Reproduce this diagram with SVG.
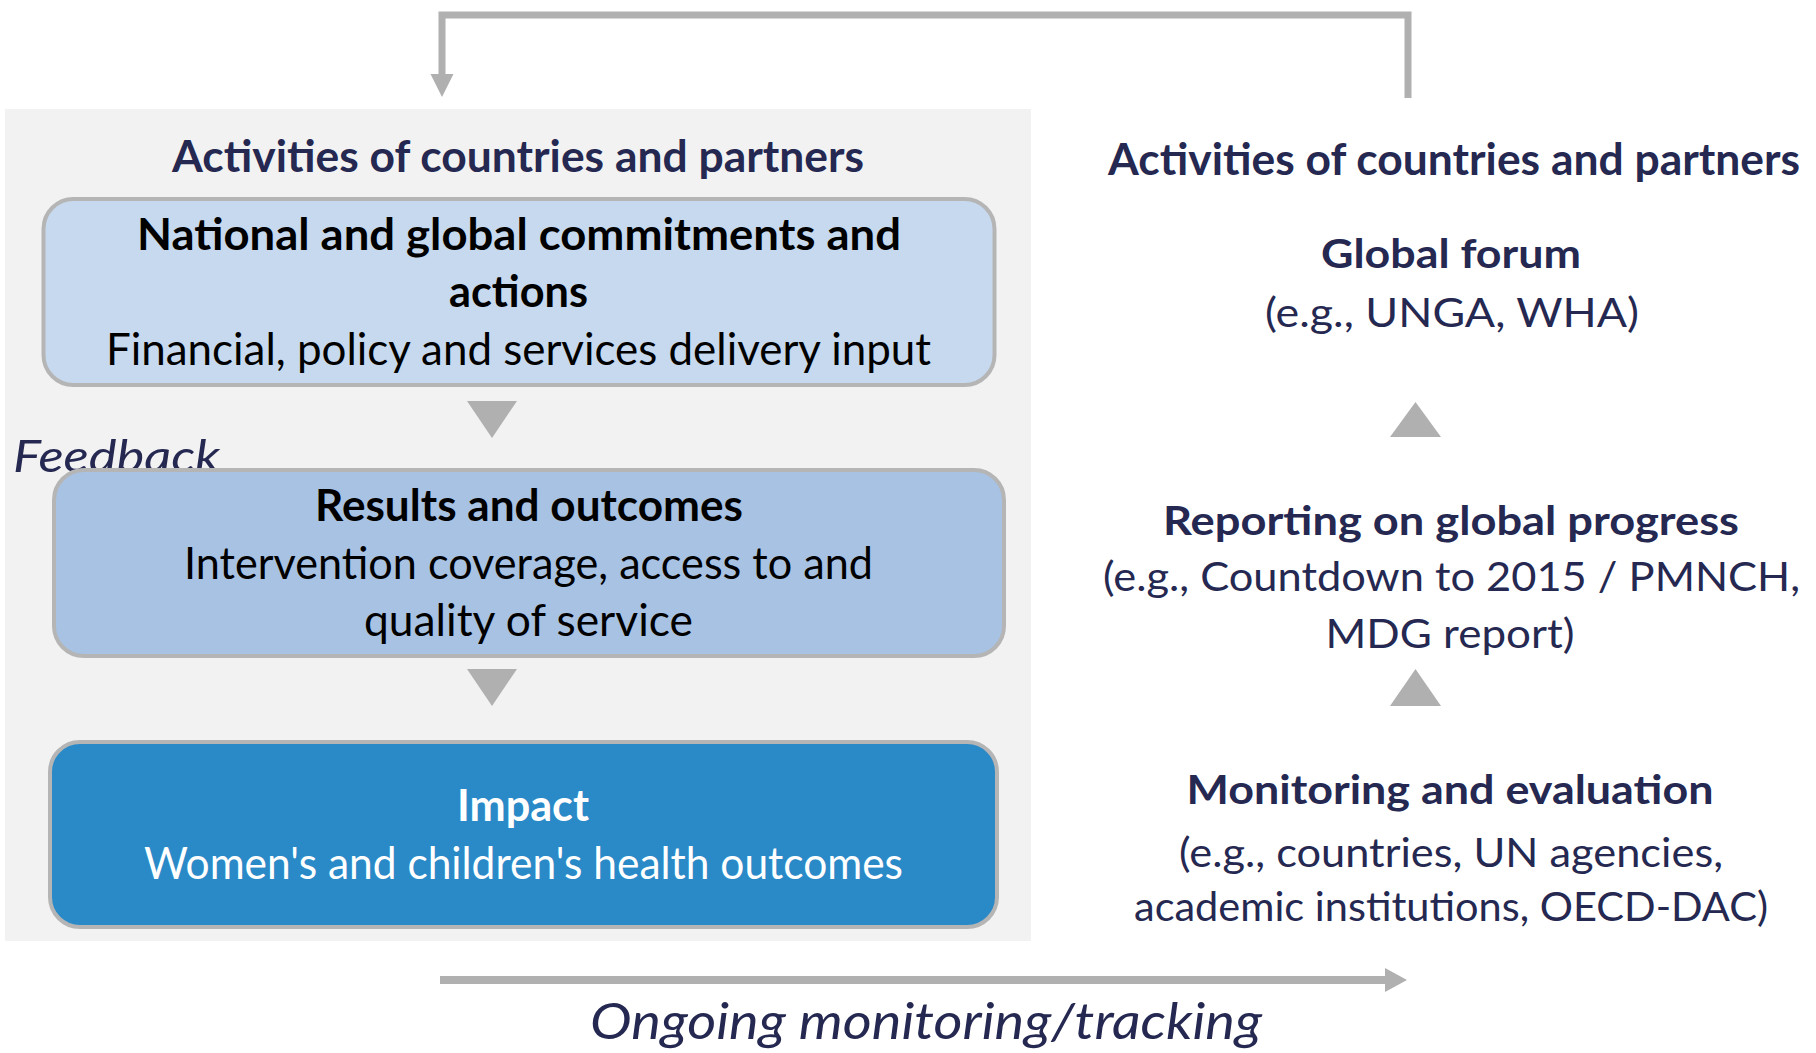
<svg xmlns="http://www.w3.org/2000/svg" width="1816" height="1053" viewBox="0 0 1816 1053">
<style>
text{font-family:Lato,"Noto Sans","Liberation Sans",sans-serif;text-anchor:middle}
.navy{fill:#252851}
.b{font-weight:bold}
.t{font-size:44px}
.r{font-size:40px}
.blk{fill:#000}
.wht{fill:#fff}
.box{stroke:#b5b5b5;stroke-width:4}
.tri{fill:#b0b0b0}
.ln{fill:none;stroke:#b0b0b0}
</style>
<rect id="panel" x="5" y="109" width="1026" height="832" fill="#f2f2f2"/>
<g id="connectors">
<polyline class="ln" stroke-width="7" points="1408,98 1408,15 442,15 442,76"/>
<polygon class="tri" points="430.5,74 453.5,74 442,97"/>
<line class="ln" stroke-width="8" x1="440" y1="980" x2="1387" y2="980"/>
<polygon class="tri" points="1385,968 1407,980 1385,992"/>
<polygon class="tri" points="467,401 517,401 492,438"/>
<polygon class="tri" points="467,669 517,669 492,706"/>
<polygon class="tri" points="1390,437 1441,437 1415.5,402"/>
<polygon class="tri" points="1390,706 1441,706 1415.5,669"/>
</g>
<g id="left-title"><text class="navy b t" x="518" y="172" textLength="692" lengthAdjust="spacingAndGlyphs">Activities of countries and partners</text></g>
<g id="feedback"><text class="navy t" x="13" y="472" style="text-anchor:start;font-style:italic" textLength="207" lengthAdjust="spacingAndGlyphs">Feedback</text></g>
<g id="node-commitments">
<rect class="box" x="43.5" y="199" width="951" height="186" rx="30" fill="#c6d9ee"/>
<text class="blk b t" x="519" y="250" textLength="764" lengthAdjust="spacingAndGlyphs">National and global commitments and</text>
<text class="blk b t" x="518.5" y="307" textLength="139" lengthAdjust="spacingAndGlyphs">actions</text>
<text class="blk t" x="518.5" y="365" textLength="825" lengthAdjust="spacingAndGlyphs">Financial, policy and services delivery input</text>
</g>
<g id="node-results">
<rect class="box" x="54" y="470" width="950" height="186" rx="30" fill="#a8c2e3"/>
<text class="blk b t" x="529" y="521" textLength="428" lengthAdjust="spacingAndGlyphs">Results and outcomes</text>
<text class="blk t" x="528.5" y="579" textLength="689" lengthAdjust="spacingAndGlyphs">Intervention coverage, access to and</text>
<text class="blk t" x="528.5" y="636" textLength="329" lengthAdjust="spacingAndGlyphs">quality of service</text>
</g>
<g id="node-impact">
<rect class="box" x="50" y="742" width="947" height="185" rx="30" fill="#2a8ac8"/>
<text class="wht b t" x="523" y="821" textLength="132" lengthAdjust="spacingAndGlyphs">Impact</text>
<text class="wht t" x="523.5" y="879" textLength="759" lengthAdjust="spacingAndGlyphs">Women's and children's health outcomes</text>
</g>
<g id="ongoing"><text class="navy" x="926" y="1039" style="font-size:50px;font-style:italic" textLength="672" lengthAdjust="spacingAndGlyphs">Ongoing monitoring/tracking</text></g>
<g id="right-title"><text class="navy b t" x="1454" y="175" textLength="692" lengthAdjust="spacingAndGlyphs">Activities of countries and partners</text></g>
<g id="node-global-forum">
<text class="navy b r" x="1451" y="268" textLength="260" lengthAdjust="spacingAndGlyphs">Global forum</text>
<text class="navy r" x="1452" y="327" textLength="374" lengthAdjust="spacingAndGlyphs">(e.g., UNGA, WHA)</text>
</g>
<g id="node-reporting">
<text class="navy b r" x="1451" y="535" textLength="576" lengthAdjust="spacingAndGlyphs">Reporting on global progress</text>
<text class="navy r" x="1451.5" y="591" textLength="697" lengthAdjust="spacingAndGlyphs">(e.g., Countdown to 2015 / PMNCH,</text>
<text class="navy r" x="1450" y="648" textLength="249" lengthAdjust="spacingAndGlyphs">MDG report)</text>
</g>
<g id="node-monitoring">
<text class="navy b r" x="1450" y="804" textLength="527" lengthAdjust="spacingAndGlyphs">Monitoring and evaluation</text>
<text class="navy r" x="1451" y="867" textLength="544" lengthAdjust="spacingAndGlyphs">(e.g., countries, UN agencies,</text>
<text class="navy r" x="1451" y="921" textLength="634" lengthAdjust="spacingAndGlyphs">academic institutions, OECD-DAC)</text>
</g>
</svg>
